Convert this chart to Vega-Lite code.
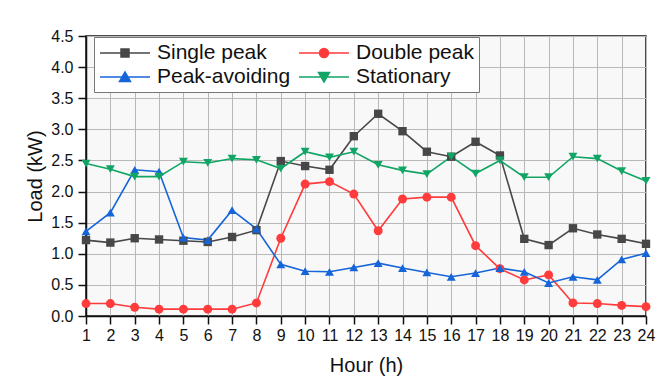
{
  "$schema": "https://vega.github.io/schema/vega-lite/v6.json",
  "width": 560,
  "height": 280,
  "autosize": "none",
  "padding": {"left": 86, "top": 36, "right": 19, "bottom": 64},
  "background": "white",
  "config": {
    "font": "Liberation Sans",
    "view": {"stroke": "#111111", "strokeWidth": 1.5, "fill": "#f8f8f8"},
    "axis": {"labelColor": "#111", "titleColor": "#111", "titleFontWeight": "normal", "domainColor": "#111", "tickColor": "#111", "gridColor": "#b8b8b8", "gridWidth": 1},
    "legend": {
      "title": null, "orient": "none", "legendX": 8, "legendY": 1, "columns": 2, "direction": "horizontal",
      "labelFontSize": 21, "labelColor": "#111", "labelOffset": 36, "columnPadding": 5, "rowPadding": 3,
      "padding": 5, "strokeColor": "#777", "fillColor": "#ffffff", "cornerRadius": 0,
      "symbolSize": 400, "symbolStrokeWidth": 1.5, "symbolOpacity": 1
    }
  },
  "data": {
    "values": [
      {"hour":1,"series":"Single peak","load":1.22},{"hour":2,"series":"Single peak","load":1.18},{"hour":3,"series":"Single peak","load":1.25},{"hour":4,"series":"Single peak","load":1.23},{"hour":5,"series":"Single peak","load":1.21},{"hour":6,"series":"Single peak","load":1.19},{"hour":7,"series":"Single peak","load":1.27},{"hour":8,"series":"Single peak","load":1.38},{"hour":9,"series":"Single peak","load":2.49},{"hour":10,"series":"Single peak","load":2.41},{"hour":11,"series":"Single peak","load":2.35},{"hour":12,"series":"Single peak","load":2.89},{"hour":13,"series":"Single peak","load":3.25},{"hour":14,"series":"Single peak","load":2.97},{"hour":15,"series":"Single peak","load":2.64},{"hour":16,"series":"Single peak","load":2.56},{"hour":17,"series":"Single peak","load":2.8},{"hour":18,"series":"Single peak","load":2.58},{"hour":19,"series":"Single peak","load":1.24},{"hour":20,"series":"Single peak","load":1.14},{"hour":21,"series":"Single peak","load":1.41},{"hour":22,"series":"Single peak","load":1.31},{"hour":23,"series":"Single peak","load":1.24},{"hour":24,"series":"Single peak","load":1.16},
      {"hour":1,"series":"Double peak","load":0.2},{"hour":2,"series":"Double peak","load":0.2},{"hour":3,"series":"Double peak","load":0.14},{"hour":4,"series":"Double peak","load":0.11},{"hour":5,"series":"Double peak","load":0.11},{"hour":6,"series":"Double peak","load":0.11},{"hour":7,"series":"Double peak","load":0.11},{"hour":8,"series":"Double peak","load":0.21},{"hour":9,"series":"Double peak","load":1.25},{"hour":10,"series":"Double peak","load":2.12},{"hour":11,"series":"Double peak","load":2.16},{"hour":12,"series":"Double peak","load":1.96},{"hour":13,"series":"Double peak","load":1.37},{"hour":14,"series":"Double peak","load":1.88},{"hour":15,"series":"Double peak","load":1.91},{"hour":16,"series":"Double peak","load":1.91},{"hour":17,"series":"Double peak","load":1.13},{"hour":18,"series":"Double peak","load":0.76},{"hour":19,"series":"Double peak","load":0.58},{"hour":20,"series":"Double peak","load":0.66},{"hour":21,"series":"Double peak","load":0.21},{"hour":22,"series":"Double peak","load":0.2},{"hour":23,"series":"Double peak","load":0.17},{"hour":24,"series":"Double peak","load":0.15},
      {"hour":1,"series":"Peak-avoiding","load":1.36},{"hour":2,"series":"Peak-avoiding","load":1.66},{"hour":3,"series":"Peak-avoiding","load":2.35},{"hour":4,"series":"Peak-avoiding","load":2.32},{"hour":5,"series":"Peak-avoiding","load":1.26},{"hour":6,"series":"Peak-avoiding","load":1.22},{"hour":7,"series":"Peak-avoiding","load":1.7},{"hour":8,"series":"Peak-avoiding","load":1.4},{"hour":9,"series":"Peak-avoiding","load":0.83},{"hour":10,"series":"Peak-avoiding","load":0.72},{"hour":11,"series":"Peak-avoiding","load":0.71},{"hour":12,"series":"Peak-avoiding","load":0.78},{"hour":13,"series":"Peak-avoiding","load":0.85},{"hour":14,"series":"Peak-avoiding","load":0.77},{"hour":15,"series":"Peak-avoiding","load":0.7},{"hour":16,"series":"Peak-avoiding","load":0.63},{"hour":17,"series":"Peak-avoiding","load":0.69},{"hour":18,"series":"Peak-avoiding","load":0.77},{"hour":19,"series":"Peak-avoiding","load":0.71},{"hour":20,"series":"Peak-avoiding","load":0.53},{"hour":21,"series":"Peak-avoiding","load":0.63},{"hour":22,"series":"Peak-avoiding","load":0.58},{"hour":23,"series":"Peak-avoiding","load":0.91},{"hour":24,"series":"Peak-avoiding","load":1.01},
      {"hour":1,"series":"Stationary","load":2.45},{"hour":2,"series":"Stationary","load":2.36},{"hour":3,"series":"Stationary","load":2.24},{"hour":4,"series":"Stationary","load":2.24},{"hour":5,"series":"Stationary","load":2.48},{"hour":6,"series":"Stationary","load":2.46},{"hour":7,"series":"Stationary","load":2.53},{"hour":8,"series":"Stationary","load":2.51},{"hour":9,"series":"Stationary","load":2.37},{"hour":10,"series":"Stationary","load":2.64},{"hour":11,"series":"Stationary","load":2.55},{"hour":12,"series":"Stationary","load":2.64},{"hour":13,"series":"Stationary","load":2.43},{"hour":14,"series":"Stationary","load":2.34},{"hour":15,"series":"Stationary","load":2.28},{"hour":16,"series":"Stationary","load":2.56},{"hour":17,"series":"Stationary","load":2.29},{"hour":18,"series":"Stationary","load":2.5},{"hour":19,"series":"Stationary","load":2.23},{"hour":20,"series":"Stationary","load":2.23},{"hour":21,"series":"Stationary","load":2.56},{"hour":22,"series":"Stationary","load":2.53},{"hour":23,"series":"Stationary","load":2.33},{"hour":24,"series":"Stationary","load":2.17}
    ]
  },
  "layer": [
    {
      "mark": {"type": "line", "strokeWidth": 1.6},
      "encoding": {
        "x": {"field": "hour", "type": "quantitative", "scale": {"domain": [1, 24], "nice": false, "zero": false},
          "axis": {"title": "Hour (h)", "values": [1,2,3,4,5,6,7,8,9,10,11,12,13,14,15,16,17,18,19,20,21,22,23,24], "format": "d", "labelOverlap": false, "labelFlush": false, "tickSize": 8, "tickWidth": 1.5, "domainWidth": 1.5, "labelFontSize": 16, "labelPadding": 3, "titleFontSize": 20, "titlePadding": 12, "grid": true}},
        "y": {"field": "load", "type": "quantitative", "scale": {"domain": [0, 4.5], "nice": false},
          "axis": {"title": "Load (kW)", "values": [0,0.5,1,1.5,2,2.5,3,3.5,4,4.5], "format": ".1f", "labelOverlap": false, "labelFlush": false, "tickSize": 8, "tickWidth": 1.5, "domainWidth": 1.5, "labelFontSize": 16, "labelPadding": 5, "titleFontSize": 20, "titlePadding": 5, "grid": true}},
        "color": {"field": "series", "type": "nominal",
          "scale": {"domain": ["Single peak", "Double peak", "Peak-avoiding", "Stationary"], "range": ["#474747", "#ff3b3b", "#1565d8", "#10a565"]},
          "legend": {"title": null, "orient": "none", "legendX": 8, "legendY": 1, "columns": 2, "direction": "horizontal"}}
      }
    },
    {
      "transform": [{"filter": "datum.series === 'Single peak'"}],
      "mark": {"type": "point", "shape": "square", "filled": true, "size": 70, "opacity": 1, "color": "#474747"},
      "encoding": {"x": {"field": "hour", "type": "quantitative", "axis": null}, "y": {"field": "load", "type": "quantitative", "axis": null}}
    },
    {
      "transform": [{"filter": "datum.series === 'Double peak'"}],
      "mark": {"type": "point", "shape": "circle", "filled": true, "size": 80, "opacity": 1, "color": "#ff3b3b"},
      "encoding": {"x": {"field": "hour", "type": "quantitative", "axis": null}, "y": {"field": "load", "type": "quantitative", "axis": null}}
    },
    {
      "transform": [{"filter": "datum.series === 'Peak-avoiding'"}],
      "mark": {"type": "point", "shape": "triangle-up", "filled": true, "size": 80, "opacity": 1, "color": "#1565d8"},
      "encoding": {"x": {"field": "hour", "type": "quantitative", "axis": null}, "y": {"field": "load", "type": "quantitative", "axis": null}}
    },
    {
      "transform": [{"filter": "datum.series === 'Stationary'"}],
      "mark": {"type": "point", "shape": "triangle-down", "filled": true, "size": 80, "opacity": 1, "color": "#10a565"},
      "encoding": {"x": {"field": "hour", "type": "quantitative", "axis": null}, "y": {"field": "load", "type": "quantitative", "axis": null}}
    },
    {
      "transform": [{"filter": "datum.hour > 99"}],
      "mark": {"type": "point", "filled": true, "size": 400},
      "encoding": {
        "x": {"field": "hour", "type": "quantitative", "axis": null},
        "y": {"field": "load", "type": "quantitative", "axis": null},
        "color": {"field": "series", "type": "nominal",
          "legend": {"title": null, "orient": "none", "legendX": 8, "legendY": 1, "columns": 2, "direction": "horizontal"}},
        "shape": {"field": "series", "type": "nominal",
          "scale": {"domain": ["Single peak", "Double peak", "Peak-avoiding", "Stationary"],
            "range": ["M-1,0H4M1.1,-0.4H1.9V0.4H1.1Z", "M-1,0H4M1.05,0A0.45,0.45,0,1,0,1.95,0A0.45,0.45,0,1,0,1.05,0Z", "M-1,0H4M1.5,-0.5L2.05,0.45H0.95Z", "M-1,0H4M1.5,0.5L2.05,-0.45H0.95Z"]},
          "legend": {"title": null, "orient": "none", "legendX": 8, "legendY": 1, "columns": 2, "direction": "horizontal"}}
      }
    }
  ],
  "resolve": {"axis": {"x": "independent", "y": "independent"}}
}
